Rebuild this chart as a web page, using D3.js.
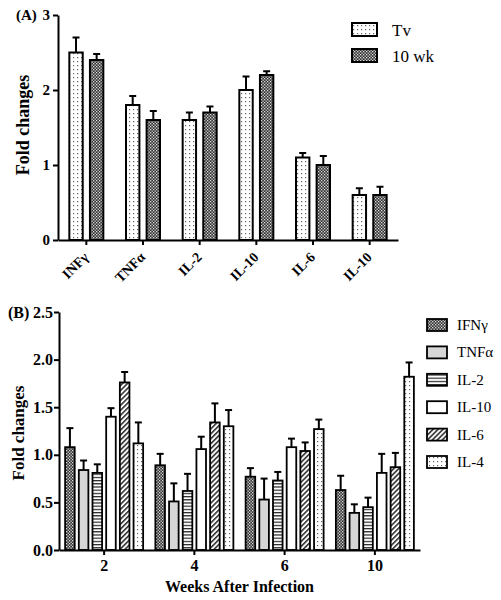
<!DOCTYPE html>
<html><head><meta charset="utf-8">
<script src="https://cdn.jsdelivr.net/npm/d3@7/dist/d3.min.js"></script>
<style>body{margin:0;background:#fff}svg{display:block;font-family:"Liberation Serif","Times New Roman",serif}</style>
</head><body><svg id="c" width="501" height="600"></svg>
<script>
// Panel A data
const catsA = ["INFγ","TNFα","IL-2","IL-10","IL-6","IL-10"];
const seriesA = ["Tv","10 wk"];
const tvVals = [2.5,1.8,1.6,2.0,1.1,0.6];
const tvErr  = [2.7,1.92,1.7,2.18,1.16,0.69];
const wkVals = [2.4,1.6,1.7,2.2,1.0,0.6];
const wkErr  = [2.48,1.72,1.78,2.25,1.12,0.71];
const ticksA = [0,1,2,3];

// Panel B data
const weeks = ["2","4","6","10"];
const cytokines = ["IFNγ","TNFα","IL-2","IL-10","IL-6","IL-4"];
const bVals = {
  "IFNγ":[1.08,0.89,0.77,0.63],
  "TNFα":[0.84,0.51,0.53,0.39],
  "IL-2":[0.81,0.62,0.73,0.45],
  "IL-10":[1.40,1.06,1.08,0.81],
  "IL-6":[1.76,1.34,1.04,0.87],
  "IL-4":[1.12,1.30,1.27,1.82]
};
const bErr = {
  "IFNγ":[1.28,1.01,0.86,0.78],
  "TNFα":[0.94,0.70,0.75,0.48],
  "IL-2":[0.90,0.80,0.82,0.55],
  "IL-10":[1.49,1.19,1.17,1.01],
  "IL-6":[1.87,1.54,1.13,1.02],
  "IL-4":[1.34,1.47,1.37,1.97]
};
const ticksB = [0,0.5,1.0,1.5,2.0,2.5];

const svg = d3.select("#c");
const defs = svg.append("defs");
// sparse dots
let p = defs.append("pattern").attr("id","dots").attr("width",4).attr("height",4).attr("patternUnits","userSpaceOnUse");
p.append("rect").attr("width",4).attr("height",4).attr("fill","#fff");
p.append("rect").attr("x",1).attr("y",1).attr("width",1.2).attr("height",1.2).attr("fill","#666");
// dense checker
p = defs.append("pattern").attr("id","checker").attr("width",3).attr("height",3).attr("patternUnits","userSpaceOnUse");
p.append("rect").attr("width",3).attr("height",3).attr("fill","#333");
p.append("rect").attr("x",0).attr("y",0).attr("width",1.3).attr("height",1.3).attr("fill","#ddd");
p.append("rect").attr("x",1.5).attr("y",1.5).attr("width",1.3).attr("height",1.3).attr("fill","#ddd");
// horizontal lines
p = defs.append("pattern").attr("id","hlines").attr("width",4).attr("height",3.2).attr("patternUnits","userSpaceOnUse");
p.append("rect").attr("width",4).attr("height",3.2).attr("fill","#fff");
p.append("rect").attr("y",0).attr("width",4).attr("height",1.2).attr("fill","#222");
// diagonal
p = defs.append("pattern").attr("id","diag").attr("width",3.5).attr("height",3.5).attr("patternUnits","userSpaceOnUse").attr("patternTransform","rotate(45)");
p.append("rect").attr("width",3.5).attr("height",3.5).attr("fill","#fff");
p.append("rect").attr("width",1.6).attr("height",3.5).attr("fill","#333");

const fillA = {"Tv":"url(#dots)","10 wk":"url(#checker)"};
const fillB = {"IFNγ":"url(#checker)","TNFα":"#d6d6d6","IL-2":"url(#hlines)","IL-10":"#fff","IL-6":"url(#diag)","IL-4":"url(#dots)"};

// ---------- Panel A ----------
const yA = d3.scaleLinear().domain([0,3]).range([240,15]);
const xA = d3.scaleBand().domain(d3.range(catsA.length)).range([58,398]);
const xA1 = d3.scaleBand().domain(seriesA).range([-17,17]).paddingInner(0.35);
const gA = svg.append("g");
const dataA = catsA.map((c,i)=>[
  {s:"Tv",i,v:tvVals[i],e:tvErr[i]},
  {s:"10 wk",i,v:wkVals[i],e:wkErr[i]}
]).flat();
const eb = (g, d, x, w, y) => {
  const cx = x + w/2;
  g.append("line").attr("x1",cx).attr("x2",cx).attr("y1",y(d.v)).attr("y2",y(d.e)).attr("stroke","#000").attr("stroke-width",2);
  g.append("line").attr("x1",cx-3.5).attr("x2",cx+3.5).attr("y1",y(d.e)).attr("y2",y(d.e)).attr("stroke","#000").attr("stroke-width",2);
};
dataA.forEach(d=>{
  const x = xA(d.i)+xA.bandwidth()/2+xA1(d.s);
  eb(gA,d,x,xA1.bandwidth(),yA);
  gA.append("rect").attr("x",x).attr("y",yA(d.v)).attr("width",xA1.bandwidth()).attr("height",yA(0)-yA(d.v))
    .attr("fill",fillA[d.s]).attr("stroke","#000").attr("stroke-width",2);
});
// axes A
const axA = gA.append("g").attr("transform","translate(58,0)")
  .call(d3.axisLeft(yA).tickValues(ticksA).tickFormat(d3.format("d")).tickSize(5).tickSizeOuter(0));
const axAx = gA.append("g").attr("transform","translate(0,240)")
  .call(d3.axisBottom(xA).tickSize(5).tickSizeOuter(0).tickFormat(i=>catsA[i]));
[axA,axAx].forEach(a=>{a.selectAll("path,line").attr("stroke","#000").attr("stroke-width",2);a.selectAll("text").attr("font-family","Liberation Serif").attr("font-weight","bold").attr("fill","#000");});
axA.selectAll("text").attr("font-size",15).attr("x",-8);
axAx.selectAll("text").attr("font-size",14).attr("text-anchor","end").attr("dy",0).attr("y",0)
  .attr("transform","translate(3,18) rotate(-45)");
svg.append("text").attr("x",16).attr("y",20).attr("font-size",15).attr("font-weight","bold").text("(A)");
svg.append("text").attr("transform","translate(29,125) rotate(-90)").attr("text-anchor","middle").attr("font-size",18).attr("font-weight","bold").text("Fold changes");
// legend A
seriesA.forEach((s,k)=>{
  const y = 23 + k*26;
  svg.append("rect").attr("x",352).attr("y",y).attr("width",25).attr("height",13).attr("fill",fillA[s]).attr("stroke","#000").attr("stroke-width",2);
  svg.append("text").attr("x",392).attr("y",y+13).attr("font-size",17).text(s);
});

// ---------- Panel B ----------
const yB = d3.scaleLinear().domain([0,2.5]).range([550,312]);
const xB = d3.scaleBand().domain(weeks).range([59,420]);
const xB1 = d3.scaleBand().domain(cytokines).range([-39,39]).paddingInner(0.3);
const gB = svg.append("g");
weeks.forEach((w,wi)=>{
  cytokines.forEach(c=>{
    const d = {v:bVals[c][wi], e:bErr[c][wi]};
    const x = xB(w)+xB.bandwidth()/2+xB1(c);
    eb(gB,d,x,xB1.bandwidth(),yB);
    gB.append("rect").attr("x",x).attr("y",yB(d.v)).attr("width",xB1.bandwidth()).attr("height",yB(0)-yB(d.v))
      .attr("fill",fillB[c]).attr("stroke","#000").attr("stroke-width",1.8);
  });
});
const axB = gB.append("g").attr("transform","translate(59,0)")
  .call(d3.axisLeft(yB).tickValues(ticksB).tickFormat(d3.format(".1f")).tickSize(5).tickSizeOuter(0));
const axBx = gB.append("g").attr("transform","translate(0,550)")
  .call(d3.axisBottom(xB).tickSize(5).tickSizeOuter(0));
[axB,axBx].forEach(a=>{a.selectAll("path,line").attr("stroke","#000").attr("stroke-width",2);a.selectAll("text").attr("font-family","Liberation Serif").attr("font-weight","bold").attr("fill","#000").attr("font-size",16);});
axB.selectAll("text").attr("x",-6);
axBx.selectAll("text").attr("y",10);
svg.append("text").attr("x",8).attr("y",318).attr("font-size",16).attr("font-weight","bold").text("(B)");
svg.append("text").attr("transform","translate(24,433) rotate(-90)").attr("text-anchor","middle").attr("font-size",17).attr("font-weight","bold").text("Fold changes");
svg.append("text").attr("x",239.5).attr("y",592).attr("text-anchor","middle").attr("font-size",16).attr("font-weight","bold").text("Weeks After Infection");
// legend B
cytokines.forEach((c,k)=>{
  const y = 319 + k*27.4;
  svg.append("rect").attr("x",427).attr("y",y).attr("width",20).attr("height",12).attr("fill",fillB[c]).attr("stroke","#000").attr("stroke-width",1.8);
  svg.append("text").attr("x",457).attr("y",y+11).attr("font-size",15).text(c);
});
</script></body></html>
